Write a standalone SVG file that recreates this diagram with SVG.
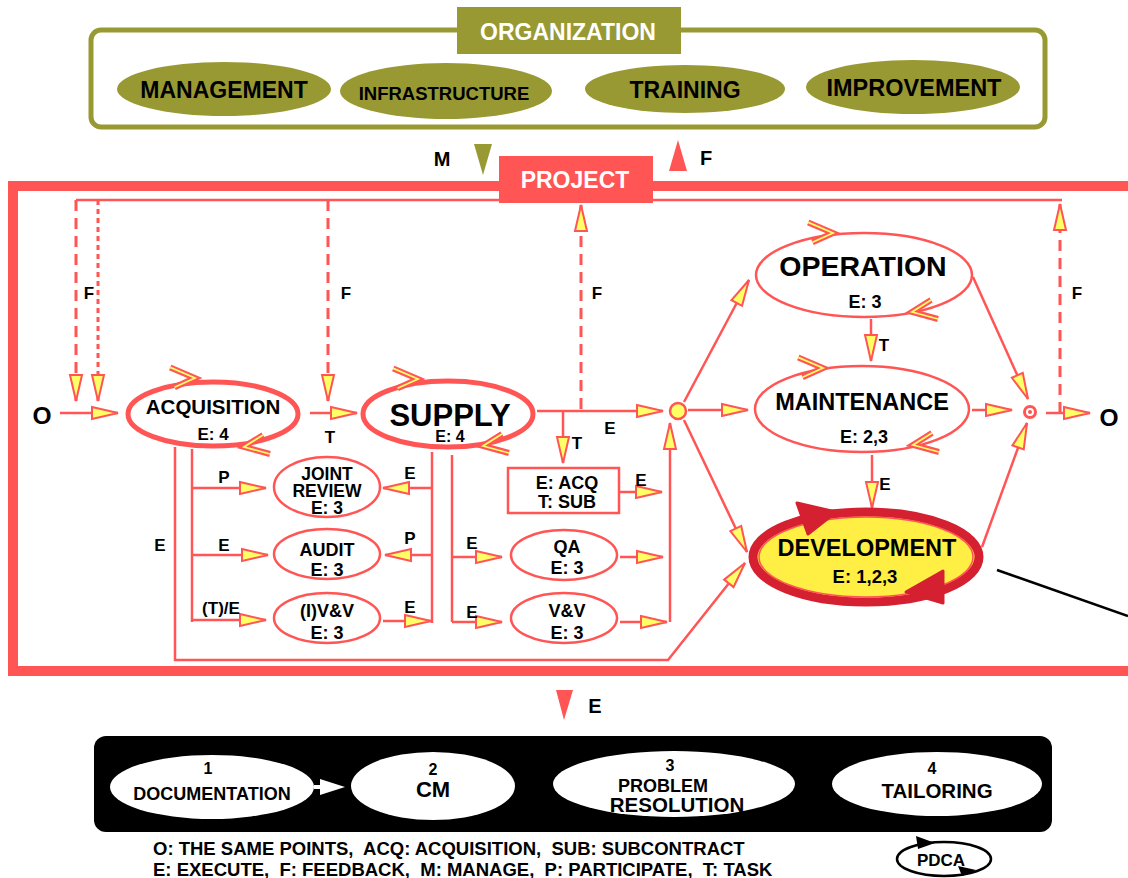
<svg xmlns="http://www.w3.org/2000/svg" width="1128" height="878" viewBox="0 0 1128 878">
  <defs>
    <style>
      text { font-family: "Liberation Sans", Arial, sans-serif; font-weight: bold; text-anchor: middle; fill: #000; }
      .wt { fill: #fff; }
      .ln { fill: none; stroke: #FF5555; stroke-width: 2.5; }
      .dash { stroke-dasharray: 11 7; stroke-width: 3; }
      .dot { stroke-dasharray: 5 4; stroke-width: 3; }
      .olive { fill: #999933; }
      .proc { fill: #fff; stroke: #FF5555; stroke-width: 2.5; }
      .heavy { stroke-width: 5; }
      .lbl { font-size: 17px; }
      .sub { font-size: 18px; }
      .ah { marker-end: url(#ah); }
      .legend { font-size: 18.5px; text-anchor: start; white-space: pre; }
    </style>
    <marker id="ah" markerUnits="userSpaceOnUse" markerWidth="32" markerHeight="18" refX="27" refY="7" orient="auto" overflow="visible">
      <path d="M1,1 L27,7 L1,13 Z" fill="#FFFF66" stroke="#FF5555" stroke-width="2" stroke-linejoin="miter"/>
    </marker>
    <!-- hollow chevron used for the cycle marks on process ellipses -->
    <g id="chev">
      <path d="M-26,-7 L0,0 L-19,12" fill="none" stroke="#FF5555" stroke-width="6" stroke-linejoin="miter" stroke-linecap="butt"/>
      <path d="M-26,-7 L0,0 L-19,12" fill="none" stroke="#FFFF66" stroke-width="1.8" stroke-linejoin="miter"/>
    </g>
  </defs>

  <rect width="1128" height="878" fill="#fff"/>

  <!-- Organization level -->
  <g id="organization">
    <rect x="91" y="30" width="954" height="97" rx="10" fill="none" stroke="#999933" stroke-width="5"/>
    <rect x="457" y="7" width="224" height="47" class="olive"/>
    <text x="568" y="40" class="wt" font-size="23">ORGANIZATION</text>
  </g>
  <g id="management">
    <ellipse cx="224" cy="89" rx="107" ry="27" class="olive"/>
    <text x="224" y="98" font-size="23">MANAGEMENT</text>
  </g>
  <g id="infrastructure">
    <ellipse cx="446" cy="91" rx="106" ry="28" class="olive"/>
    <text x="444" y="100" font-size="18.5">INFRASTRUCTURE</text>
  </g>
  <g id="training">
    <ellipse cx="685" cy="89" rx="100" ry="24" class="olive"/>
    <text x="685" y="98" font-size="23">TRAINING</text>
  </g>
  <g id="improvement">
    <ellipse cx="913" cy="87" rx="107" ry="27" class="olive"/>
    <text x="914" y="96" font-size="23.5">IMPROVEMENT</text>
  </g>

  <!-- Manage / feedback between organization and project -->
  <g id="org-project-links">
    <polygon points="474,144 492,144 483,175" fill="#999933"/>
    <text x="442" y="166" font-size="20">M</text>
    <polygon points="669,171 687,171 678,140" fill="#FF5555"/>
    <text x="706" y="165" font-size="20">F</text>
  </g>

  <!-- Project frame -->
  <g id="project">
    <rect x="13" y="186" width="1140" height="485" fill="none" stroke="#FF5555" stroke-width="10"/>
  </g>

  <!-- Connectors -->
  <g id="connectors">
    <!-- feedback bus -->
    <path class="ln" stroke-width="3" d="M76,200 H1062"/>
    <path class="ln dash ah" d="M76,200 V401"/>
    <path class="ln dot ah" d="M98,200 V401"/>
    <path class="ln dash ah" d="M328,200 V401"/>
    <path class="ln dash ah" d="M581,409 V205"/>
    <path class="ln dash ah" d="M1060,413 V204"/>

    <!-- main flow -->
    <path class="ln ah" d="M60,413 H118"/>
    <path class="ln ah" d="M310,413 H357"/>
    <path class="ln ah" d="M537,411 H663"/>
    <path class="ln ah" d="M563,411 V463"/>
    <path class="ln ah" d="M620,492 H662"/>
    <path class="ln ah" d="M620,557 H663"/>
    <path class="ln ah" d="M620,622 H667"/>
    <path class="ln ah" d="M670,622 V423"/>
    <path class="ln ah" d="M684,402 L749,280"/>
    <path class="ln ah" d="M688,410 H748"/>
    <path class="ln ah" d="M684,420 L747,552"/>

    <!-- supply side branches -->
    <path class="ln" d="M452,455 V622"/>
    <path class="ln ah" d="M452,557 H502"/>
    <path class="ln ah" d="M452,622 H502"/>
    <path class="ln" d="M432,452 V623"/>
    <path class="ln ah" d="M432,488 H383"/>
    <path class="ln ah" d="M432,555 H385"/>
    <path class="ln ah" d="M383,621 H431"/>

    <!-- acquisition side branches -->
    <path class="ln" d="M192,449 V622"/>
    <path class="ln ah" d="M192,488 H266"/>
    <path class="ln ah" d="M192,555 H268"/>
    <path class="ln ah" d="M192,620 H266"/>
    <path class="ln ah" d="M175,447 V660 H668 L745,563"/>

    <!-- life-cycle processes -->
    <path class="ln ah" d="M871,319 V361"/>
    <path class="ln ah" d="M872,455 V508"/>
    <path class="ln ah" d="M972,410 H1012"/>
    <path class="ln ah" d="M1046,413 H1090"/>
    <path class="ln ah" d="M973,277 L1028,399"/>
    <path class="ln ah" d="M982,547 L1027,423"/>

    <path d="M997,570 L1128,616" stroke="#000" stroke-width="2.5" fill="none"/>
  </g>

  <!-- PROJECT label sits over the feedback bus -->
  <g id="project-label">
    <rect x="499" y="156" width="154" height="47" fill="#FF5555"/>
    <text x="575" y="188" class="wt" font-size="23">PROJECT</text>
  </g>

  <!-- Connector labels -->
  <g id="labels">
    <text x="42" y="424" font-size="24.5">O</text>
    <text x="1109" y="426" font-size="24.5">O</text>
    <text x="89" y="299" class="lbl">F</text>
    <text x="346" y="299" class="lbl">F</text>
    <text x="597" y="299" class="lbl">F</text>
    <text x="1077" y="299" class="lbl">F</text>
    <text x="330" y="443" class="lbl">T</text>
    <text x="610" y="434" class="lbl">E</text>
    <text x="577" y="449" class="lbl">T</text>
    <text x="641" y="486" class="lbl">E</text>
    <text x="224" y="483" class="lbl">P</text>
    <text x="224" y="551" class="lbl">E</text>
    <text x="221" y="614" class="lbl">(T)/E</text>
    <text x="410" y="479" class="lbl">E</text>
    <text x="410" y="544" class="lbl">P</text>
    <text x="410" y="613" class="lbl">E</text>
    <text x="472" y="549" class="lbl">E</text>
    <text x="472" y="618" class="lbl">E</text>
    <text x="160" y="551" class="lbl">E</text>
    <text x="884" y="351" class="lbl">T</text>
    <text x="885" y="490" class="lbl">E</text>
  </g>

  <!-- Project processes -->
  <g id="acquisition">
    <ellipse cx="213" cy="414" rx="85" ry="32" class="proc heavy"/>
    <use href="#chev" transform="translate(195,378) rotate(8)"/>
    <use href="#chev" transform="translate(244,447) rotate(180)"/>
    <text x="213" y="414" font-size="20.5">ACQUISITION</text>
    <text x="213" y="440" font-size="17">E: 4</text>
  </g>
  <g id="supply">
    <ellipse cx="448" cy="414" rx="85" ry="33" class="proc heavy"/>
    <use href="#chev" transform="translate(418,379) rotate(8)"/>
    <use href="#chev" transform="translate(483,446) rotate(180)"/>
    <text x="450" y="426" font-size="31">SUPPLY</text>
    <text x="450" y="442" font-size="16">E: 4</text>
  </g>
  <g id="joint-review">
    <ellipse cx="327" cy="487" rx="53" ry="30" class="proc"/>
    <text x="327" y="480" font-size="17.5">JOINT</text>
    <text x="327" y="497" font-size="17.5">REVIEW</text>
    <text x="327" y="514" font-size="17.5">E: 3</text>
  </g>
  <g id="audit">
    <ellipse cx="327" cy="554" rx="53" ry="25" class="proc"/>
    <text x="327" y="556" class="sub">AUDIT</text>
    <text x="327" y="576" class="sub">E: 3</text>
  </g>
  <g id="ivv">
    <ellipse cx="327" cy="618" rx="53" ry="25" class="proc"/>
    <text x="327" y="617" class="sub">(I)V&amp;V</text>
    <text x="327" y="639" class="sub">E: 3</text>
  </g>
  <g id="subcontract">
    <rect x="508" y="468" width="111" height="45" class="proc"/>
    <text x="567" y="489" class="sub">E: ACQ</text>
    <text x="567" y="508" class="sub">T: SUB</text>
  </g>
  <g id="qa">
    <ellipse cx="564" cy="555" rx="53" ry="25" class="proc"/>
    <text x="567" y="553" class="sub">QA</text>
    <text x="567" y="574" class="sub">E: 3</text>
  </g>
  <g id="vv">
    <ellipse cx="564" cy="618" rx="53" ry="25" class="proc"/>
    <text x="567" y="617" class="sub">V&amp;V</text>
    <text x="567" y="639" class="sub">E: 3</text>
  </g>
  <g id="junction-in">
    <circle cx="678" cy="411" r="8" fill="#FFFF66" stroke="#FF5555" stroke-width="2.5"/>
  </g>
  <g id="junction-out">
    <circle cx="1030" cy="412" r="5.5" fill="#fff" stroke="#FF5555" stroke-width="3"/>
    <circle cx="1030" cy="412" r="2" fill="#FF5555"/>
  </g>
  <g id="operation">
    <ellipse cx="864" cy="275" rx="108" ry="42" class="proc"/>
    <use href="#chev" transform="translate(833,233) rotate(8)"/>
    <use href="#chev" transform="translate(912,312) rotate(180)"/>
    <text x="863" y="276" font-size="28.5">OPERATION</text>
    <text x="865" y="308" class="sub">E: 3</text>
  </g>
  <g id="maintenance">
    <ellipse cx="862" cy="409" rx="107" ry="43" class="proc"/>
    <use href="#chev" transform="translate(823,368) rotate(8)"/>
    <use href="#chev" transform="translate(913,445) rotate(180)"/>
    <text x="862" y="410" font-size="23.5">MAINTENANCE</text>
    <text x="864" y="443" class="sub">E: 2,3</text>
  </g>
  <g id="development">
    <ellipse cx="866" cy="557" rx="113" ry="45" fill="#FFEE44" stroke="#D42030" stroke-width="9"/>
    <ellipse cx="866" cy="557" rx="107" ry="40" fill="none" stroke="#FF5555" stroke-width="1.5"/>
    <polygon points="797,503 836,512 808,534" fill="#D42030" stroke="#D42030" stroke-width="3" stroke-linejoin="round"/>
    <polygon points="943,571 906,592 943,603" fill="#D42030" stroke="#D42030" stroke-width="3" stroke-linejoin="round"/>
    <text x="867" y="556" font-size="23.5">DEVELOPMENT</text>
    <text x="865" y="583" font-size="18.5">E: 1,2,3</text>
  </g>

  <!-- Execute link to supporting processes -->
  <g id="execute-link">
    <polygon points="556,690 573,690 564,720" fill="#FF5555"/>
    <text x="595" y="713" font-size="20">E</text>
  </g>

  <!-- Supporting processes -->
  <g id="support">
    <rect x="94" y="736" width="958" height="96" rx="12" fill="#000"/>
  </g>
  <g id="documentation">
    <ellipse cx="212" cy="787" rx="102" ry="32" fill="#fff"/>
    <text x="208" y="774" font-size="16">1</text>
    <text x="212" y="800" font-size="18">DOCUMENTATION</text>
  </g>
  <g id="doc-to-cm">
    <path d="M314,787 H322" stroke="#fff" stroke-width="4"/>
    <polygon points="320,779 345,787 320,795" fill="#fff"/>
  </g>
  <g id="cm">
    <ellipse cx="433" cy="786" rx="82" ry="34" fill="#fff"/>
    <text x="433" y="775" font-size="16">2</text>
    <text x="433" y="797" font-size="22">CM</text>
  </g>
  <g id="problem-resolution">
    <ellipse cx="674" cy="784" rx="121" ry="33" fill="#fff"/>
    <text x="670" y="771" font-size="16">3</text>
    <text x="663" y="792" font-size="18">PROBLEM</text>
    <text x="677" y="812" font-size="20.5">RESOLUTION</text>
  </g>
  <g id="tailoring">
    <ellipse cx="937" cy="784" rx="105" ry="32" fill="#fff"/>
    <text x="932" y="774" font-size="16">4</text>
    <text x="937" y="798" font-size="20.5">TAILORING</text>
  </g>

  <!-- Legend -->
  <g id="legend">
    <text x="153" y="855" class="legend" xml:space="preserve">O: THE SAME POINTS,  ACQ: ACQUISITION,  SUB: SUBCONTRACT</text>
    <text x="153" y="876" class="legend" xml:space="preserve">E: EXECUTE,  F: FEEDBACK,  M: MANAGE,  P: PARTICIPATE,  T: TASK</text>
  </g>
  <g id="pdca">
    <ellipse cx="944" cy="859" rx="47" ry="17" fill="none" stroke="#000" stroke-width="2.5"/>
    <polygon points="916,836 935,843 918,849" fill="#000"/>
    <polygon points="976,870 962,876 958,866" fill="#000"/>
    <text x="941" y="866" font-size="17">PDCA</text>
  </g>
</svg>
